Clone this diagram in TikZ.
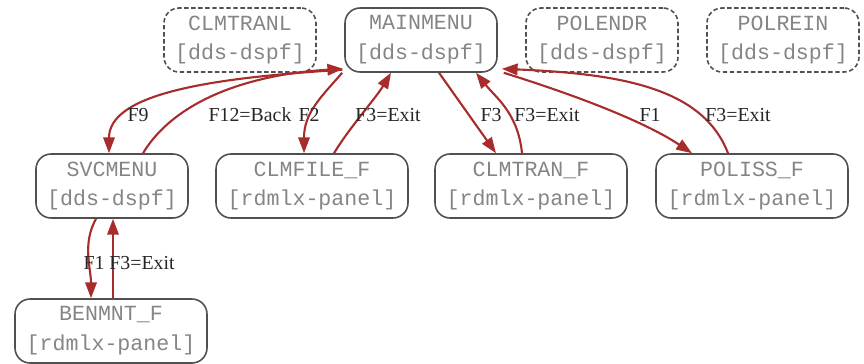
\documentclass[tikz,border=0pt]{standalone}
\usepackage{fontspec}
\setmainfont{Liberation Serif}
\setmonofont{Liberation Mono}
\usetikzlibrary{arrows.meta}

\begin{document}
\begin{tikzpicture}[x=0.02cm,y=-0.02cm,
  screen/.style={draw=boxgrey,line width=0.9pt,rounded corners=0.3cm,inner sep=0pt,
    minimum width=3.04cm,minimum height=1.28cm,align=center,text=txtgrey,
    font=\ttfamily\fontsize{12.3}{17}\selectfont},
  panel/.style={screen,minimum width=3.84cm},
  unused/.style={screen,dashed,dash pattern=on 2.5pt off 1.5pt},
  flow/.style={draw=flowred,line width=1.2pt,-{Triangle[length=9pt,width=6.5pt]}},
  keylbl/.style={font=\fontsize{11.3}{13}\selectfont,text=black!85,inner sep=1pt}]
\definecolor{boxgrey}{HTML}{505050}
\definecolor{txtgrey}{HTML}{858585}
\definecolor{flowred}{HTML}{A82C2C}
\useasboundingbox (0,0) rectangle (864,363);

% screens
\node [unused] (clmtranl) at (240,40)  {CLMTRANL\\{[dds-dspf]}};
\node [screen] (mainmenu) at (421,40)  {MAINMENU\\{[dds-dspf]}};
\node [unused] (polendr)  at (602,40)  {POLENDR\\{[dds-dspf]}};
\node [unused] (polrein)  at (783,40)  {POLREIN\\{[dds-dspf]}};
\node [screen] (svcmenu)  at (112,186) {SVCMENU\\{[dds-dspf]}};
\node [panel]  (clmfile)  at (312,186) {CLMFILE\_F\\{[rdmlx-panel]}};
\node [panel]  (clmtran)  at (531,186) {CLMTRAN\_F\\{[rdmlx-panel]}};
\node [panel]  (poliss)   at (752,186) {POLISS\_F\\{[rdmlx-panel]}};
\node [panel]  (benmnt)   at (111,331) {BENMNT\_F\\{[rdmlx-panel]}};

% function keys
\draw [flow] ([shift={(-2,-3)}]mainmenu.south west) .. controls +(-130,8) and +(0,-60) .. ([shift={(-3,0)}]svcmenu.north);
\draw [flow] ([shift={(31,0)}]svcmenu.north) .. controls +(30,-50) and +(-100,6) .. ([shift={(-1,-4)}]mainmenu.south west);
\draw [flow] ([shift={(-2,0)}]mainmenu.south west) .. controls +(-22,25) and +(0,-40) .. ([shift={(-8,0)}]clmfile.north);
\draw [flow] ([shift={(22,0)}]clmfile.north) .. controls +(15,-25) and +(-15,25) .. ([shift={(-30,0)}]mainmenu.south);
\draw [flow] ([shift={(18,0)}]mainmenu.south) -- ([shift={(-35,0)}]clmtran.north);
\draw [flow] ([shift={(-9,0)}]clmtran.north) .. controls +(-4,-40) and +(20,25) .. ([shift={(55,0)}]mainmenu.south);
\draw [flow] ([shift={(6,0)}]mainmenu.south east) .. controls +(80,25) and +(-45,-30) .. ([shift={(-60,0)}]poliss.north);
\draw [flow] ([shift={(-24,0)}]poliss.north) .. controls +(-25,-65) and +(120,5) .. ([shift={(4,-4)}]mainmenu.south east);
\draw [flow] ([shift={(-16,0)}]svcmenu.south) .. controls +(-14,25) and +(0,-30) .. ([shift={(-20,0)}]benmnt.north);
\draw [flow] ([shift={(2,0)}]benmnt.north) -- ([shift={(1,0)}]svcmenu.south);

\foreach \txt/\x/\y [count=\i] in {F9/138/115,F12=Back/250/115,F2/309/115,F3=Exit/388/115,
  F3/491/115,F3=Exit/547/115,F1/650/115,F3=Exit/738/115,F1/94/263,F3=Exit/142/263}
  {  \node [keylbl] (key\i) at (\x,\y) {\txt};}
\end{tikzpicture}
\end{document}
